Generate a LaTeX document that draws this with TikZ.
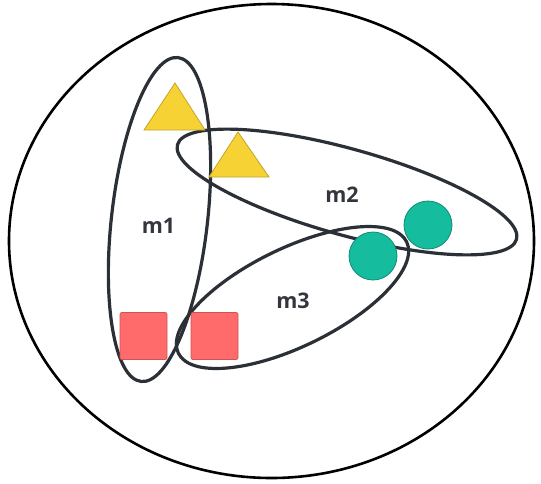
\documentclass[tikz,border=0pt]{standalone}
\usepackage{fontspec}
\newfontfamily\lblfont{Open Sans}
\definecolor{ringcol}{HTML}{2B2F36}
\definecolor{yel}{HTML}{F6D234}
\definecolor{yeldark}{HTML}{C3A42A}
\definecolor{teal}{HTML}{15BC9D}
\definecolor{tealdark}{HTML}{0F8C74}
\definecolor{redfill}{HTML}{FF6A6A}
\definecolor{reddark}{HTML}{CF5353}
\definecolor{lblcol}{HTML}{33373D}
\begin{document}
\begin{tikzpicture}[x=1pt,y=-1pt,
  outer/.style={draw=black,line width=2.6pt},
  setring/.style={draw=ringcol,line width=3.2pt},
  tri/.style={fill=yel,draw=yeldark,line width=0.8pt,line join=miter},
  circ/.style={circle,fill=teal,draw=tealdark,line width=0.8pt,minimum size=48pt,inner sep=0pt},
  sq/.style={rectangle,rounded corners=2pt,fill=redfill,draw=reddark,line width=0.8pt,minimum size=47pt,inner sep=0pt},
  lbl/.style={text=lblcol,font=\lblfont\bfseries\fontsize{21.5}{25}\selectfont,inner sep=0pt}]
\useasboundingbox (0,0) rectangle (541,483);
\fill[white] (0,0) rectangle (541,483);
% universe
\draw[outer] (271.5,241) ellipse [x radius=262.5, y radius=237];
% sets
\draw[setring,rotate around={83.5:(159.5,219.5)}] (159.5,219.5) ellipse [x radius=163, y radius=48];
\draw[setring,rotate around={-15.6:(347,192)}] (347,192) ellipse [x radius=176, y radius=43];
\draw[setring,rotate around={26:(292.5,297.5)}] (292.5,297.5) ellipse [x radius=127, y radius=49];
% triangles
\coordinate (t1a) at (175,83);
\coordinate (t1l) at (144,130);
\coordinate (t1r) at (205,130);
\coordinate (t2a) at (238,132);
\coordinate (t2l) at (209,177);
\coordinate (t2r) at (269,177);
\draw[tri] (t1a) -- (t1l) -- (t1r) -- cycle;
\draw[tri] (t2a) -- (t2l) -- (t2r) -- cycle;
% circles
\node[circ] (c1) at (373,256) {};
\node[circ] (c2) at (428,225) {};
% squares
\node[sq] (s1) at (143.5,336) {};
\node[sq] (s2) at (214.5,336) {};
% labels
\node[lbl] (m1) at (158.5,226) {m1};
\node[lbl] (m2) at (342,195) {m2};
\node[lbl] (m3) at (293,301) {m3};
\end{tikzpicture}
\end{document}
